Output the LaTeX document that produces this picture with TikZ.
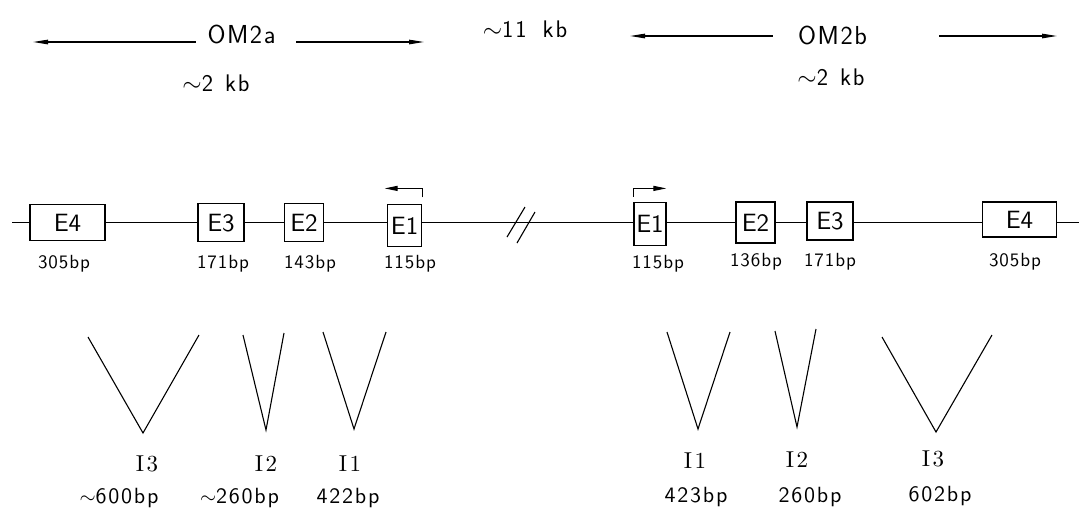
\documentclass[tikz,border=0pt]{standalone}
\usepackage{fontspec}
\usetikzlibrary{arrows.meta}
\newfontfamily\plotbig{lmsans17-regular.otf}[LetterSpace=6]
\newfontfamily\plotkb{lmsans17-regular.otf}[LetterSpace=8]
\newfontfamily\plotex{lmsans10-regular.otf}
\newfontfamily\plotmid{lmsans10-regular.otf}[LetterSpace=5]
\newfontfamily\plotlow{lmsans10-regular.otf}[LetterSpace=8]
\newfontfamily\plotrm{lmroman10-regular.otf}[LetterSpace=10]
\newcommand\fOM{\plotbig\fontsize{26}{30}\selectfont}
\newcommand\fKB{\plotkb\fontsize{24}{28}\selectfont}
\newcommand\fEX{\plotex\fontsize{25}{28}\selectfont}
\newcommand\fBP{\plotmid\fontsize{19}{22}\selectfont}
\newcommand\fBPB{\plotlow\fontsize{22}{26}\selectfont}
\newcommand\fIN{\plotrm\fontsize{23}{26}\selectfont}
\begin{document}
\begin{tikzpicture}[x=1pt,y=-1pt,line width=1.1pt,
  exon/.style={draw,line width=1.2pt,inner sep=0pt,font=\fEX},
  txt/.style={inner sep=0pt,anchor=base},
  bigtip/.style={-{Triangle[length=15pt,width=4.5pt]}},
  ptip/.style={-{Triangle[length=13pt,width=5pt]}}]
\useasboundingbox (0,0) rectangle (1079,507);

% top row
\node[txt,font=\fOM] (OMa) at (241.5,43) {OM2a};
\node[txt,font=\fOM] (OMb) at (832.5,44.5) {OM2b};
\node[txt,font=\fKB] (kb11) at (525,37) {$\sim$11\hspace{16pt}kb};
\node[txt,font=\fKB] (kba) at (216,91) {$\sim$2\hspace{12pt}kb};
\node[txt,font=\fKB] (kbb) at (831,85) {$\sim$2\hspace{12pt}kb};
\coordinate (laL) at (33,42);
\coordinate (laR) at (424,42);
\coordinate (lbL) at (630,36);
\coordinate (lbR) at (1057,36);
\draw[bigtip] ([xshift=-11pt]OMa.west |- laL) -- (laL);
\draw[bigtip] ([xshift=20pt]OMa.east |- laR) -- (laR);
\draw[bigtip] ([xshift=-25pt]OMb.west |- lbL) -- (lbL);
\draw[bigtip] ([xshift=72pt]OMb.east |- lbR) -- (lbR);

% exons
\node[exon,minimum width=75pt,minimum height=36pt] (E4a) at (67.5,222.7) {E4};
\node[exon,minimum width=46pt,minimum height=38pt] (E3a) at (221,222.7) {E3};
\node[exon,minimum width=39.5pt,minimum height=38pt] (E2a) at (304,222.7) {E2};
\node[exon,minimum width=34pt,minimum height=42.4pt] (E1a) at (404.7,225.5) {E1};
\node[exon,minimum width=32pt,minimum height=43pt] (E1b) at (650,224) {E1};
\node[exon,minimum width=39pt,minimum height=41pt] (E2b) at (755.5,222.5) {E2};
\node[exon,minimum width=46pt,minimum height=38pt] (E3b) at (830,221) {E3};
\node[exon,minimum width=74pt,minimum height=35pt] (E4b) at (1019.5,219.5) {E4};
\coordinate (lstart) at (12,222.7);
\coordinate (lend) at (1079,222.7);

% backbone
\draw (lstart) -- (E4a.west |- lstart);
\draw (E4a.east |- lstart) -- (E3a.west |- lstart);
\draw (E3a.east |- lstart) -- (E2a.west |- lstart);
\draw (E2a.east |- lstart) -- (E1a.west |- lstart);
\draw (E1a.east |- lstart) -- (E1b.west |- lstart);
\draw (E1b.east |- lstart) -- (E2b.west |- lstart);
\draw (E2b.east |- lstart) -- (E3b.west |- lstart);
\draw (E3b.east |- lstart) -- (E4b.west |- lstart);
\draw (E4b.east |- lstart) -- (lend);

% break mark
\draw (507,237) -- (525,207);
\draw (517,243) -- (535,212);

% promoter arrows
\draw[ptip] ([yshift=6.3pt]E1a.north east) -- ++(0,-9) -- ++(-37.7,0);
\draw[ptip] ([yshift=5pt]E1b.north west) -- ++(0,-8.5) -- ++(33,0);

% exon sizes
\node[txt,font=\fBP] (s4a) at (64,268) {305bp};
\node[txt,font=\fBP] (s3a) at (223,268) {171bp};
\node[txt,font=\fBP] (s2a) at (310,268) {143bp};
\node[txt,font=\fBP] (s1a) at (410,268) {115bp};
\node[txt,font=\fBP] (s1b) at (658,268) {115bp};
\node[txt,font=\fBP] (s2b) at (756,266) {136bp};
\node[txt,font=\fBP] (s3b) at (830,266) {171bp};
\node[txt,font=\fBP] (s4b) at (1015,266) {305bp};

% introns
\draw (88,337) -- (143,433) -- (199,335);
\draw (243,335) -- (266,430) -- (284,333);
\draw (323,332) -- (354,429) -- (386,332);
\draw (667,332) -- (698,429) -- (730,332);
\draw (775,331) -- (797,427) -- (816,329);
\draw (882,337) -- (936,432) -- (992,335);

\node[txt,font=\fIN] (i3a) at (147,471.5) {I3};
\node[txt,font=\fIN] (i2a) at (266,471.5) {I2};
\node[txt,font=\fIN] (i1a) at (350,471.5) {I1};
\node[txt,font=\fIN] (i1b) at (695,468) {I1};
\node[txt,font=\fIN] (i2b) at (797,467.5) {I2};
\node[txt,font=\fIN] (i3b) at (933,466.5) {I3};

\node[txt,font=\fBPB] (l3a) at (119,503) {$\sim$600bp};
\node[txt,font=\fBPB] (l2a) at (239.5,503) {$\sim$260bp};
\node[txt,font=\fBPB] (l1a) at (348,503) {422bp};
\node[txt,font=\fBPB] (l1b) at (696,502) {423bp};
\node[txt,font=\fBPB] (l2b) at (810,502) {260bp};
\node[txt,font=\fBPB] (l3b) at (940,501) {602bp};
\end{tikzpicture}
\end{document}
